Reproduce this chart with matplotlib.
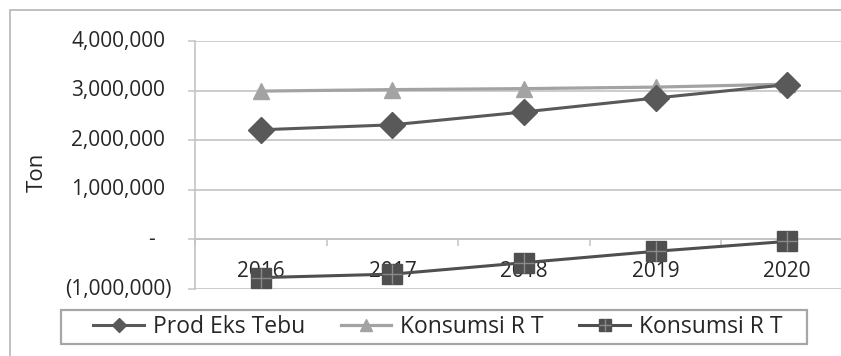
import matplotlib
matplotlib.use("Agg")
import matplotlib.pyplot as plt
import matplotlib.patches as patches
import matplotlib.transforms as mtransforms
from matplotlib.legend_handler import HandlerTuple
import numpy as np

plt.rcParams['font.family'] = ['Open Sans', 'DejaVu Sans']

years = ['2016', '2017', '2018', '2019', '2020']
prod_eks_tebu = [2210000, 2310000, 2570000, 2850000, 3120000]
konsumsi_rt = [2990000, 3020000, 3040000, 3070000, 3130000]
selisih = [-770000, -700000, -470000, -240000, -40000]
y_ticks = [-1000000, 0, 1000000, 2000000, 3000000, 4000000]
y_labels = ['(1,000,000)', '-', '1,000,000', '2,000,000', '3,000,000', '4,000,000']

fs = 15
grid_c = '#c3c3c3'
dark = '#595959'
light = '#a3a3a3'
sq_c = '#4f4f4f'
txt_c = '#262626'

fig = plt.figure(figsize=(8.41, 3.56), dpi=100)
ax = fig.add_axes([195 / 841, 67 / 356, 658 / 841, 248 / 356])

x = np.arange(len(years))
ax.plot(x, konsumsi_rt, color=light, lw=2.3, marker='^', ms=12, zorder=3)
ax.plot(x, prod_eks_tebu, color=dark, lw=2.2, marker='D', ms=13, zorder=4)
ax.plot(x, selisih, color=sq_c, lw=2.2, marker='s', ms=14, zorder=4)
ax.plot(x, selisih, ls='none', color='#8a8a8a', marker='+', ms=14, mew=1.0, zorder=5)

ax.set_xlim(-0.5, len(years) - 0.5)
ax.set_ylim(-1000000, 4000000)

# gridlines
ax.set_yticks(y_ticks)
ax.set_yticklabels([])
ax.yaxis.grid(True, color=grid_c, lw=1.2)
ax.set_axisbelow(True)
ax.tick_params(axis='y', length=5, width=1.1, color=grid_c, direction='out')

# y tick labels, accounting style alignment
label_offsets = {'(1,000,000)': -23, '-': -40}
for v, lab in zip(y_ticks, y_labels):
    off = label_offsets.get(lab, -30)
    tr = ax.get_yaxis_transform() + mtransforms.ScaledTranslation(off / 100, 0, fig.dpi_scale_trans)
    ax.text(0, v, lab, transform=tr, ha='right', va='center', fontsize=fs, color=txt_c)

# category axis at zero
ax.spines['bottom'].set_position(('data', 0))
ax.spines['bottom'].set_color(grid_c)
ax.spines['bottom'].set_linewidth(1.2)
ax.set_xticks(np.arange(len(years) + 1) - 0.5)
ax.set_xticklabels([])
ax.tick_params(axis='x', length=5, width=1.1, color=grid_c, direction='out')
for i, yr in enumerate(years):
    tr = ax.transData + mtransforms.ScaledTranslation(0, -0.38, fig.dpi_scale_trans)
    ax.text(i, 0, yr, transform=tr, ha='center', va='baseline', fontsize=fs,
            color=txt_c, zorder=2)

ax.spines['left'].set_color(grid_c)
ax.spines['left'].set_linewidth(1.2)
ax.spines['top'].set_visible(False)
ax.spines['right'].set_visible(False)

fig.text(37 / 841, 1 - 172 / 356, 'Ton', rotation=90, ha='center', va='center',
         fontsize=16, color=txt_c)

# chart border
fig.patches.append(patches.Rectangle((10 / 841, -0.1), 1.2, 1.1 - 10 / 356,
                                     transform=fig.transFigure, fill=False,
                                     edgecolor='#b5b5b5', lw=1.2))

# legend frame
fig.patches.append(patches.Rectangle((61 / 841, 1 - 344 / 356), 746 / 841, 34 / 356,
                                     transform=fig.transFigure, fill=False,
                                     edgecolor='#a6a6a6', lw=1.6))

# legend
h1 = plt.Line2D([], [], color=dark, lw=2.2, marker='D', ms=7)
h2 = plt.Line2D([], [], color=light, lw=2.3, marker='^', ms=8)
h3a = plt.Line2D([], [], color=sq_c, lw=2.2, marker='s', ms=8)
h3b = plt.Line2D([], [], ls='none', color='#8a8a8a', marker='+', ms=8, mew=1.0)
leg = fig.legend([h1, h2, (h3a, h3b)], ['Prod Eks Tebu', 'Konsumsi R T', 'Konsumsi R T'],
                 handler_map={tuple: HandlerTuple(ndivide=1)},
                 loc='center', bbox_to_anchor=(438 / 841, 1 - 327 / 356), ncol=3,
                 fontsize=16.5, frameon=False, handlelength=2.2,
                 handletextpad=0.4, columnspacing=1.55, borderpad=0.2,
                 borderaxespad=0)
for t in leg.get_texts():
    t.set_color(txt_c)

fig.savefig('out.png', dpi=100)
